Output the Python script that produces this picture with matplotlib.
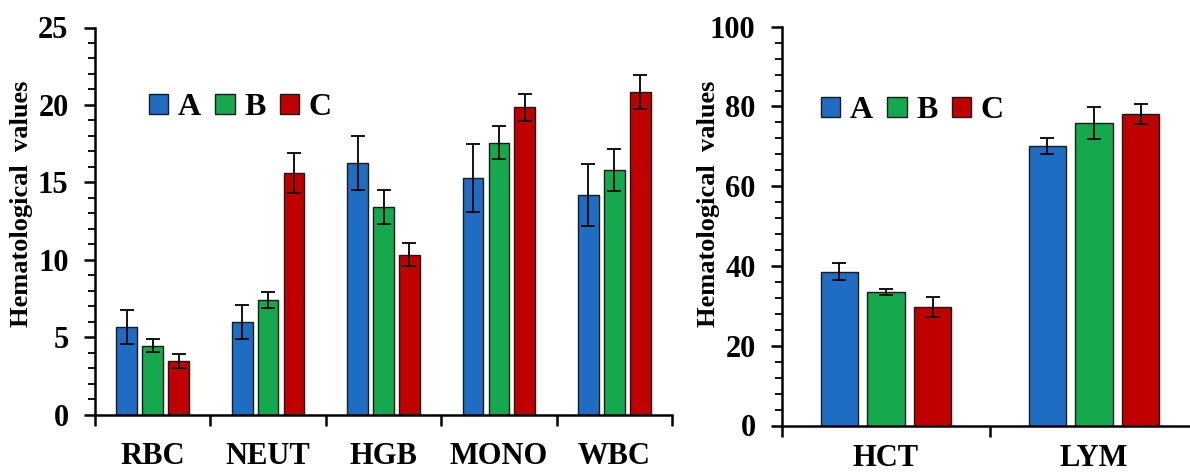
import matplotlib
matplotlib.use("Agg")
import matplotlib.pyplot as plt
import numpy as np
from matplotlib.ticker import MultipleLocator, FixedLocator, NullFormatter

plt.rcParams['font.family'] = ['Liberation Serif', 'DejaVu Serif']
plt.rcParams['font.weight'] = 'bold'

groups = ['A', 'B', 'C']
colors = ['#1F6DC2', '#16A84C', '#C00000']

left_cats = ['RBC', 'NEUT', 'HGB', 'MONO', 'WBC']
left_A = [5.63, 5.97, 16.24, 15.25, 14.18]
left_B = [4.45, 7.39, 13.40, 17.55, 15.79]
left_C = [3.46, 15.59, 10.33, 19.85, 20.83]
left_A_err = [1.1, 1.1, 1.74, 2.2, 2.0]
left_B_err = [0.4, 0.5, 1.08, 1.07, 1.33]
left_C_err = [0.43, 1.3, 0.75, 0.86, 1.07]

right_cats = ['HCT', 'LYM']
right_A = [38.6, 70.1]
right_B = [33.5, 75.9]
right_C = [29.7, 78.1]
right_A_err = [2.1, 2.1]
right_B_err = [0.8, 4.0]
right_C_err = [2.5, 2.4]

W, H = 1190, 475
fig = plt.figure(figsize=(W / 100, H / 100), dpi=100)

def px_axes(l, r, b, t):
    return fig.add_axes([l / W, 1 - b / H, (r - l) / W, (b - t) / H])

ax1 = px_axes(95, 672, 414.5, 27.5)
ax2 = px_axes(782, 1190, 425.5, 26.7)


def draw(ax, cats, vals, errs, ymax, major, minor, xmax, leg_xy, xpad,
         label_xy):
    x = np.arange(len(cats))
    width = 0.18
    offs = [-0.224, 0.0, 0.224]
    for g, v, e, c, o in zip(groups, vals, errs, colors, offs):
        ax.bar(x + o, v, width, color=c, edgecolor='#1a1a1a', linewidth=1.0,
               label=g, zorder=2)
        ax.errorbar(x + o, v, yerr=e, fmt='none', ecolor='black',
                    elinewidth=1.3, capsize=5, capthick=1.3, zorder=3)
    ax.set_xlim(-0.5, xmax)
    ax.set_ylim(0, ymax)
    ax.spines['top'].set_visible(False)
    ax.spines['right'].set_visible(False)
    for s in ['left', 'bottom']:
        ax.spines[s].set_linewidth(1.8)
    ax.yaxis.set_major_locator(MultipleLocator(major))
    ax.yaxis.set_minor_locator(MultipleLocator(minor))
    ax.tick_params(axis='y', which='major', direction='out', length=8,
                   width=1.8, labelsize=22, pad=11)
    ax.tick_params(axis='y', which='minor', direction='out', length=5,
                   width=1.3)
    ax.xaxis.set_major_locator(FixedLocator(np.arange(len(cats) + 1) - 0.5))
    ax.xaxis.set_major_formatter(NullFormatter())
    ax.xaxis.set_minor_locator(FixedLocator(x))
    ax.set_xticklabels(cats, minor=True)
    ax.tick_params(axis='x', which='major', direction='out', length=8,
                   width=1.8)
    ax.tick_params(axis='x', which='minor', length=0, labelsize=22, pad=xpad)
    for lab in ax.get_xticklabels(minor=True) + ax.get_yticklabels():
        lab.set_fontweight('bold')
    ax.set_ylabel('Hematological  values', fontsize=19, fontweight='bold')
    ax.yaxis.set_label_coords(*label_xy)
    leg = ax.legend(loc='center left', bbox_to_anchor=leg_xy, ncol=3,
                    frameon=False, fontsize=23, handlelength=0.6,
                    handleheight=0.6, handletextpad=0.3, columnspacing=0.45,
                    borderpad=0, borderaxespad=0)
    for t in leg.get_texts():
        t.set_fontweight('bold')
    for p in leg.get_patches():
        p.set_edgecolor('#1a1a1a')


draw(ax1, left_cats, [left_A, left_B, left_C],
     [left_A_err, left_B_err, left_C_err], 25, 5, 1, 4.5, (0.094, 0.792),
     19.5, (-0.107, 0.544))
draw(ax2, right_cats, [right_A, right_B, right_C],
     [right_A_err, right_B_err, right_C_err], 100, 20, 4, 1.4615,
     (0.096, 0.789), 13, (-0.152, 0.555))

fig.savefig('out.png', dpi=100)
